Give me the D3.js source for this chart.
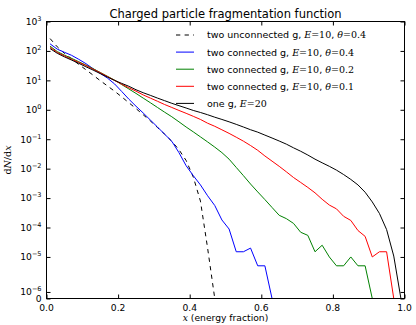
<!DOCTYPE html>
<html>
<head>
<meta charset="utf-8">
<script src="https://cdn.jsdelivr.net/npm/d3@7"></script>
<style>
  html, body { margin: 0; padding: 0; background: #fff; }
  svg { display: block; }
  text { font-family: "DejaVu Sans", sans-serif; fill: #000; }
  .math { font-family: "DejaVu Serif", serif; }
</style>
</head>
<body>
<svg id="chart" width="416" height="325"></svg>
<script>
// Bin centres of the energy fraction histogram (bin width 0.02)
const xBins = [0.01, 0.03, 0.05, 0.07, 0.09, 0.11, 0.13, 0.15, 0.17, 0.19,
               0.21, 0.23, 0.25, 0.27, 0.29, 0.31, 0.33, 0.35, 0.37, 0.39,
               0.41, 0.43, 0.45, 0.47, 0.49, 0.51, 0.53, 0.55, 0.57, 0.59,
               0.61, 0.63, 0.65, 0.67, 0.69, 0.71, 0.73, 0.75, 0.77, 0.79,
               0.81, 0.83, 0.85, 0.87, 0.89, 0.91, 0.93, 0.95, 0.97, 0.99];

// dN/dx for each configuration
const twoUnconnected04 = [263, 138, 83, 54, 35, 23, 15.1, 9.8, 6.5, 4.3,
  2.75, 1.74, 1.10, 0.68, 0.42, 0.25, 0.148, 0.085, 0.044, 0.019,
  0.0052, 0.00079, 2e-5, 0, 0, 0, 0, 0, 0, 0,
  0, 0, 0, 0, 0, 0, 0, 0, 0, 0,
  0, 0, 0, 0, 0, 0, 0, 0, 0, 0];

const twoConnected04 = [174, 115, 90, 71, 52, 37, 25, 17.4, 12.0, 7.6,
  4.2, 2.3, 1.32, 0.78, 0.45, 0.26, 0.148, 0.085, 0.035, 0.0126,
  0.0058, 0.0028, 0.0012, 0.00056, 0.00018, 0.000089, 1.5e-5, 1.5e-5, 2e-5, 5e-6,
  5e-6, 0, 0, 0, 0, 0, 0, 0, 0, 0,
  0, 0, 0, 0, 0, 0, 0, 0, 0, 0];

const twoConnected02 = [145, 95, 72, 56, 43, 33, 25, 18.6, 13.8, 10.2,
  7.2, 5.1, 3.6, 2.5, 1.74, 1.20, 0.83, 0.58, 0.39, 0.26,
  0.178, 0.120, 0.081, 0.054, 0.035, 0.021, 0.0110, 0.0058, 0.0030, 0.00162,
  0.00089, 0.00048, 0.00026, 0.00020, 0.000138, 0.000069, 0.000054, 1.5e-5, 2.5e-5, 1e-5,
  5e-6, 5e-6, 1e-5, 5e-6, 5e-6, 0, 0, 0, 0, 0];

const twoConnected01 = [132, 89, 68, 52, 41, 32, 24, 18.2, 13.5, 10.0,
  7.4, 5.6, 4.3, 3.2, 2.5, 1.95, 1.51, 1.20, 0.95, 0.76,
  0.60, 0.47, 0.35, 0.275, 0.209, 0.158, 0.117, 0.086, 0.061, 0.042,
  0.027, 0.018, 0.0120, 0.0078, 0.0050, 0.0034, 0.0023, 0.00151, 0.00091, 0.00058,
  0.00043, 0.00024, 0.000174, 0.000079, 0.000050, 1e-5, 1.5e-5, 1.5e-5, 0, 0];

const oneGluon20 = [120, 83, 63, 49, 38, 29, 22.4, 17.0, 12.9, 10.0,
  7.9, 6.3, 4.8, 3.8, 3.1, 2.5, 2.04, 1.66, 1.38, 1.15,
  0.95, 0.81, 0.68, 0.56, 0.47, 0.39, 0.32, 0.26, 0.21, 0.174,
  0.138, 0.110, 0.087, 0.068, 0.051, 0.039, 0.029, 0.021, 0.0158, 0.0120,
  0.0089, 0.0063, 0.0043, 0.0028, 0.00158, 0.00074, 0.00030, 0.000085, 0.0000107, 0];

// Legend entries: [plain text, math symbol, math value, math symbol, math value]
const seriesNames = [
  ["two unconnected g, ", "E", "=10", "θ", "=0.4"],
  ["two connected g, ", "E", "=10", "θ", "=0.4"],
  ["two connected g, ", "E", "=10", "θ", "=0.2"],
  ["two connected g, ", "E", "=10", "θ", "=0.1"],
  ["one g, ", "E", "=20"]
];
const seriesValues = [twoUnconnected04, twoConnected04, twoConnected02, twoConnected01, oneGluon20];
const seriesColors = ["#000000", "#0000ff", "#008000", "#ff0000", "#000000"];
const seriesDash = ["4.3,4.3", null, null, null, null];

const xTicks = [0.0, 0.2, 0.4, 0.6, 0.8, 1.0];
const xTickLabels = ["0.0", "0.2", "0.4", "0.6", "0.8", "1.0"];
const yTicks = [0, 1e-6, 1e-5, 1e-4, 1e-3, 1e-2, 1e-1, 1e0, 1e1, 1e2, 1e3];
const yTickExponents = [null, "−6", "−5", "−4", "−3", "−2", "−1", "0", "1", "2", "3"];

const titleText = "Charged particle fragmentation function";

// Plot frame
const frameL = 46.5, frameR = 404.5, frameT = 21.5, frameB = 298.5;

const svg = d3.select("#chart");

// Symmetric log transform: linear below the threshold, logarithmic above
const linThresh = 5e-6;
const linScaleAdj = 1 / (1 - 1 / 10);
function symlog(v) {
  const a = Math.abs(v);
  const t = a <= linThresh ? a / linThresh * linScaleAdj
                           : linScaleAdj + Math.log10(a / linThresh);
  return v < 0 ? -t : t;
}

const x = d3.scaleLinear().domain([0, 1]).range([frameL, frameR]);
const yT = d3.scaleLinear().domain([symlog(0), symlog(1e3)]).range([frameB, frameT]);
const y = v => yT(symlog(v));

// Curves, clipped to the axes area
svg.append("clipPath").attr("id", "plotClip")
  .append("rect").attr("x", frameL).attr("y", frameT)
  .attr("width", frameR - frameL).attr("height", frameB - frameT);

const line = d3.line().x(d => x(d[0])).y(d => y(d[1]));
const curves = svg.append("g").attr("clip-path", "url(#plotClip)");
seriesValues.forEach((vals, i) => {
  curves.append("path")
    .datum(xBins.map((xb, k) => [xb, vals[k]]))
    .attr("d", line)
    .attr("fill", "none")
    .attr("stroke", seriesColors[i])
    .attr("stroke-width", 1)
    .attr("stroke-dasharray", seriesDash[i]);
});

// Axes with inward ticks on all four sides
const tickLen = 4;
const axB = d3.axisBottom(x).tickValues(xTicks).tickSize(-tickLen).tickFormat("");
const axT = d3.axisTop(x).tickValues(xTicks).tickSize(-tickLen).tickFormat("");
const yTickPos = yTicks.map(symlog);
const axL = d3.axisLeft(yT).tickValues(yTickPos).tickSize(-tickLen).tickFormat("");
const axR = d3.axisRight(yT).tickValues(yTickPos).tickSize(-tickLen).tickFormat("");

function styleAxis(g) {
  g.selectAll(".domain").remove();
  g.selectAll(".tick line").attr("stroke", "#000").attr("stroke-width", 1);
}
svg.append("g").attr("transform", `translate(0,${frameB})`).call(axB).call(styleAxis);
svg.append("g").attr("transform", `translate(0,${frameT})`).call(axT).call(styleAxis);
svg.append("g").attr("transform", `translate(${frameL},0)`).call(axL).call(styleAxis);
svg.append("g").attr("transform", `translate(${frameR},0)`).call(axR).call(styleAxis);

svg.append("rect")
  .attr("x", frameL).attr("y", frameT)
  .attr("width", frameR - frameL).attr("height", frameB - frameT)
  .attr("fill", "none").attr("stroke", "#000").attr("stroke-width", 1);

// X tick labels
svg.append("g").selectAll("text")
  .data(xTicks)
  .join("text")
  .attr("x", d => x(d))
  .attr("y", frameB + 12)
  .attr("text-anchor", "middle")
  .attr("font-size", 9.2)
  .text((d, i) => xTickLabels[i]);

// Y tick labels (powers of ten, plus zero)
const yLab = svg.append("g");
yTicks.forEach((v, i) => {
  const t = yLab.append("text")
    .attr("x", frameL - 5)
    .attr("y", y(v) + 3.3)
    .attr("text-anchor", "end")
    .attr("font-size", 9.2);
  if (yTickExponents[i] === null) {
    t.attr("y", y(v) + 3.2).text("0");
  } else {
    t.append("tspan").text("10");
    t.append("tspan").attr("dy", -4).attr("font-size", 6.5).text(yTickExponents[i]);
  }
});

// Title
svg.append("text")
  .attr("x", (frameL + frameR) / 2)
  .attr("y", 18)
  .attr("text-anchor", "middle")
  .attr("font-size", 11.5)
  .text(titleText);

// Axis labels
const xl = svg.append("text")
  .attr("x", (frameL + frameR) / 2)
  .attr("y", 321)
  .attr("text-anchor", "middle")
  .attr("font-size", 9.2);
xl.append("tspan").attr("class", "math").attr("font-style", "italic").text("x");
xl.append("tspan").text(" (energy fraction)");

const yl = svg.append("text")
  .attr("transform", `translate(11,${(frameT + frameB) / 2}) rotate(-90)`)
  .attr("text-anchor", "middle")
  .attr("font-size", 9.5)
  .attr("class", "math");
yl.append("tspan").text("d");
yl.append("tspan").attr("font-style", "italic").text("N");
yl.append("tspan").text("/d");
yl.append("tspan").attr("font-style", "italic").text("x");

// Legend (no frame)
const legendY0 = 35, legendDy = 17.1;
const legend = svg.append("g");
seriesNames.forEach((parts, i) => {
  const cy = legendY0 + i * legendDy;
  legend.append("line")
    .attr("x1", 176).attr("x2", 194)
    .attr("y1", cy).attr("y2", cy)
    .attr("stroke", seriesColors[i])
    .attr("stroke-width", 1)
    .attr("stroke-dasharray", seriesDash[i]);
  const t = legend.append("text")
    .attr("x", 207).attr("y", cy + 3.4)
    .attr("font-size", 9.5);
  t.append("tspan").text(parts[0]);
  for (let k = 1; k < parts.length; k += 2) {
    if (k > 1) t.append("tspan").text(", ");
    t.append("tspan").attr("class", "math").attr("font-style", "italic").text(parts[k]);
    t.append("tspan").attr("class", "math").text(parts[k + 1]);
  }
});
</script>
</body>
</html>
